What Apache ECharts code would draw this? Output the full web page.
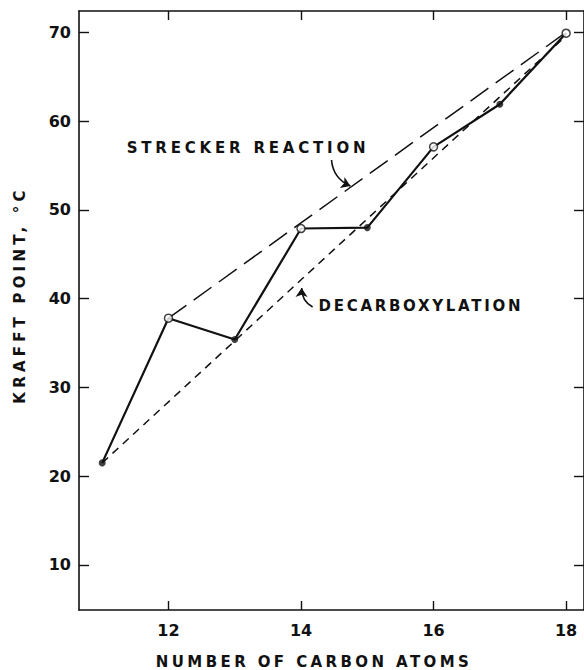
<!DOCTYPE html>
<html>
<head>
<meta charset="utf-8">
<script src="https://cdn.jsdelivr.net/npm/echarts@6/dist/echarts.min.js"></script>
<style>
  html, body { margin: 0; padding: 0; background: #fff; }
  #chart { width: 584px; height: 670px; }
</style>
</head>
<body>
<div id="chart"></div>
<script>
// carbon atoms and Krafft points (°C)
const carbonAtoms = [11, 12, 13, 14, 15, 16, 17, 18];
const krafftPoints = [21.5, 37.8, 35.4, 47.9, 48.0, 57.1, 61.9, 69.9];
// open circles = Strecker reaction, filled = decarboxylation
const streckerPoints = [[12, 37.8], [14, 47.9], [16, 57.1], [18, 69.9]];
const decarbPoints = [[11, 21.5], [13, 35.4], [15, 48.0], [17, 61.9]];
const streckerLine = [[12, 37.8], [18, 70]];
const decarbLine = [[11, 21.5], [18, 69.6]];

const xTicks = [12, 14, 16, 18];
const yTicks = [10, 20, 30, 40, 50, 60, 70];

// annotation anchors in data units
const streckerLabel = { text: "STRECKER REACTION", at: [11.37, 56.97] };
const decarbLabel = { text: "DECARBOXYLATION", at: [14.265, 39.17] };
const streckerArrow = [[14.46, 55.62], [14.745, 52.69]];
const decarbArrow = [[14.175, 39.06], [14.01, 41.2]];

const xName = "NUMBER OF CARBON ATOMS";
const yName = "KRAFFT POINT, °C";

const FONT = '"DejaVu Sans", sans-serif';

const chart = echarts.init(document.getElementById("chart"), null, { renderer: "svg" });

const tickLabel = { fontFamily: FONT, fontWeight: "bold", fontSize: 16, color: "#111" };
const lineColor = "#111";

function baseX(position, withLabels) {
  return {
    type: "value",
    position: position,
    min: 10.65,
    max: 18.27,
    axisLine: { show: true, onZero: false, lineStyle: { color: lineColor, width: 1.6 } },
    axisTick: { show: true, inside: true, length: 9, customValues: xTicks, lineStyle: { color: lineColor, width: 1.4 } },
    axisLabel: Object.assign({ show: withLabels, margin: 12, customValues: xTicks }, tickLabel),
    splitLine: { show: false },
  };
}

function baseY(position, withLabels) {
  return {
    type: "value",
    position: position,
    min: 4.93,
    max: 72.4,
    axisLine: { show: true, onZero: false, lineStyle: { color: lineColor, width: 1.6 } },
    axisTick: { show: true, inside: true, length: 10, customValues: yTicks, lineStyle: { color: lineColor, width: 1.4 } },
    axisLabel: Object.assign({ show: withLabels, margin: 8, customValues: yTicks }, tickLabel),
    splitLine: { show: false },
  };
}

const option = {
  animation: false,
  backgroundColor: "#fff",
  grid: { left: 79, top: 11, width: 508, height: 599 },
  xAxis: [baseX("bottom", true), baseX("top", false)],
  yAxis: [baseY("left", true), baseY("right", false)],
  series: [
    {
      name: "Strecker reaction",
      type: "line",
      data: streckerLine,
      symbol: "none",
      lineStyle: { color: lineColor, width: 1.5, type: [22, 9] },
      z: 2,
    },
    {
      name: "Decarboxylation",
      type: "line",
      data: decarbLine,
      symbol: "none",
      lineStyle: { color: lineColor, width: 1.5, type: [8, 6] },
      z: 2,
    },
    {
      name: "Krafft point",
      type: "line",
      data: carbonAtoms.map((c, i) => [c, krafftPoints[i]]),
      symbol: "none",
      lineStyle: { color: lineColor, width: 2.2 },
      z: 3,
    },
    {
      type: "scatter",
      data: decarbPoints,
      symbol: "circle",
      symbolSize: 7,
      itemStyle: { color: lineColor },
      z: 4,
    },
    {
      type: "scatter",
      data: streckerPoints,
      symbol: "circle",
      symbolSize: 8,
      itemStyle: { color: "#fff", borderColor: lineColor, borderWidth: 1.5 },
      z: 5,
    },
    {
      type: "lines",
      coordinateSystem: "cartesian2d",
      symbol: ["none", "arrow"],
      symbolSize: 9,
      lineStyle: { color: lineColor, width: 1.6, opacity: 1 },
      data: [
        { coords: streckerArrow, lineStyle: { curveness: -0.3 } },
        { coords: decarbArrow, lineStyle: { curveness: 0.3 } },
      ],
      z: 4,
    },
  ],
};

chart.setOption(option);

function textEl(text, x, y, extra) {
  return Object.assign({
    type: "text",
    x: x,
    y: y,
    silent: true,
    style: {
      text: text,
      fill: "#111",
      fontFamily: FONT,
      fontWeight: "bold",
      fontSize: 15,
      textAlign: "left",
      textVerticalAlign: "middle",
    },
  }, extra || {});
}

const sp = chart.convertToPixel({ gridIndex: 0 }, streckerLabel.at);
const dp = chart.convertToPixel({ gridIndex: 0 }, decarbLabel.at);

const xNameEl = textEl(xName, 314, 662);
xNameEl.style.textAlign = "center";
const yNameEl = textEl(yName, 20, 295, { rotation: Math.PI / 2 });
yNameEl.style.textAlign = "center";

chart.setOption({
  graphic: [
    textEl(streckerLabel.text, sp[0], sp[1]),
    textEl(decarbLabel.text, dp[0], dp[1]),
    xNameEl,
    yNameEl,
  ],
});

// widen the lettering like the original hand lettering
function spaceLetters() {
  chart.getDom().querySelectorAll("text").forEach((t) => {
    const s = t.textContent;
    if (s === streckerLabel.text) t.setAttribute("letter-spacing", "3.8");
    else if (s === decarbLabel.text) t.setAttribute("letter-spacing", "2.7");
    else if (s === xName) t.setAttribute("letter-spacing", "3.4");
    else if (s === yName) t.setAttribute("letter-spacing", "4.2");
  });
}
spaceLetters();
chart.on("finished", spaceLetters);
</script>
</body>
</html>
